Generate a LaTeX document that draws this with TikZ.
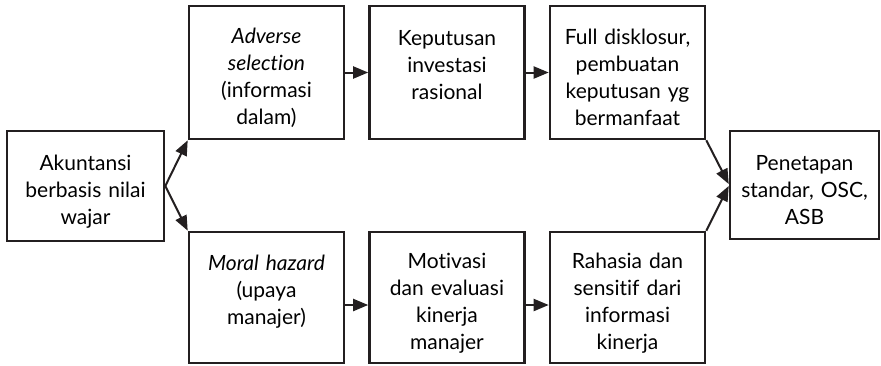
\documentclass[tikz,border=0pt]{standalone}
\usepackage{fontspec}
\setmainfont{Lato}[Ligatures=NoCommon]
\usepackage{xcolor}
\definecolor{fvblack}{RGB}{35, 31, 32}
\usetikzlibrary{arrows.meta, positioning}

\begin{document}
\begin{tikzpicture}[
    x=0.5pt, y=-0.5pt,
    >={Triangle[length=7.5pt, width=6pt]},
    kotak/.style={draw=fvblack, line width=1.3pt, minimum width=77.5pt, minimum height=#1,
        text width=74pt, align=center, inner sep=0pt, font=\fontsize{10.5}{13.5}\selectfont,
        execute at begin node={\rule{0pt}{13pt}}},
    kotak/.default=66.5pt,
    panah/.style={->, line width=1pt, draw=fvblack}
]
\useasboundingbox (0,0) rectangle (881,365);

% Sumber
\node[kotak=55pt, minimum width=78.5pt] (akun) at (85.5, 186) {Akuntansi\\berbasis nilai\\wajar};

% Jalur atas
\node[kotak] (adv) at (266.5, 72.5) {\textit{Adverse}\\\textit{selection}\\(informasi\\dalam)};
\node[kotak] (kep) at (447, 72.5) {Keputusan\\investasi\\rasional\\\mbox{}};
\node[kotak] (full) at (627.5, 72.5) {Full disklosur,\\pembuatan\\keputusan yg\\bermanfaat};

% Jalur bawah
\node[kotak=65.5pt] (moral) at (266.5, 297.5) {\textit{Moral hazard}\\(upaya\\manajer)\\\mbox{}};
\node[kotak=65.5pt] (motiv) at (447, 297.5) {Motivasi\\dan evaluasi\\kinerja\\manajer};
\node[kotak=65.5pt] (rahasia) at (627.5, 297.5) {Rahasia dan\\sensitif dari\\informasi\\kinerja};

% Tujuan
\node[kotak=54pt, minimum width=74.5pt] (pen) at (804.5, 185) {Penetapan\\standar, OSC,\\ASB};

% Panah
\draw[panah] (akun.east) -- (adv.south west);
\draw[panah] (akun.east) -- (moral.north west);
\draw[panah] (adv.east) -- (kep.west);
\draw[panah] (kep.east) -- (full.west);
\draw[panah] ([yshift=-3.75pt]moral.east) -- ([yshift=-3.75pt]motiv.west);
\draw[panah] ([yshift=-3.75pt]motiv.east) -- ([yshift=-3.75pt]rahasia.west);
\draw[panah] (full.south east) -- ([yshift=0.5pt]pen.west);
\draw[panah] (rahasia.north east) -- ([yshift=-0.5pt]pen.west);

\end{tikzpicture}
\end{document}
